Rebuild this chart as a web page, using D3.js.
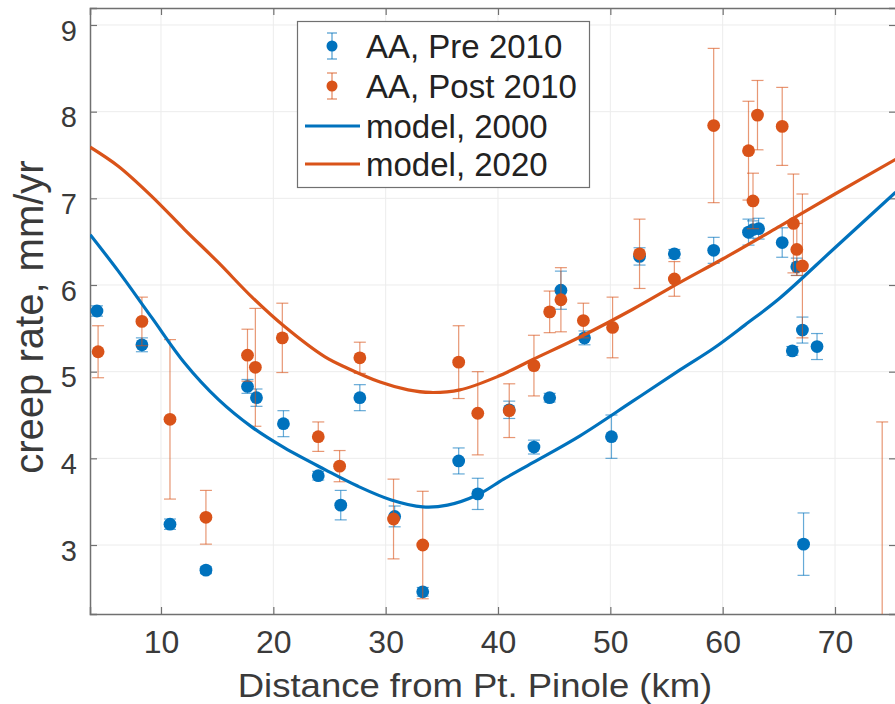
<!DOCTYPE html>
<html>
<head>
<meta charset="utf-8">
<script src="https://cdn.jsdelivr.net/npm/d3@7"></script>
<style>
  html, body { margin: 0; padding: 0; background: #fff; }
  svg { display: block; font-family: "Liberation Sans", Arial, Helvetica, sans-serif; }
</style>
</head>
<body>
<svg id="chart" width="895" height="704"></svg>
<script>
// ---- data ----
const xTicks = [10, 20, 30, 40, 50, 60, 70];
const yTicks = [3, 4, 5, 6, 7, 8, 9];
const xDomain = [3.68, 75.43];
const yDomain = [2.204, 9.196];

const seriesNames = ["AA, Pre 2010", "AA, Post 2010", "model, 2000", "model, 2020"];

// [distance km, creep rate mm/yr, error]
const pre2010 = [
  [4.3, 5.70, 0.06], [8.3, 5.31, 0.08], [10.8, 3.24, 0.06], [14.0, 2.71, 0.04],
  [17.7, 4.83, 0.08], [18.5, 4.70, 0.10], [20.9, 4.40, 0.15], [24.0, 3.80, 0.05],
  [26.0, 3.46, 0.17], [27.7, 4.70, 0.15], [30.8, 3.33, 0.12], [33.3, 2.46, 0.05],
  [36.5, 3.97, 0.15], [38.2, 3.59, 0.18], [41.0, 4.56, 0.10], [43.2, 4.13, 0.08],
  [44.6, 4.70, 0.05], [45.6, 5.94, 0.22], [47.7, 5.39, 0.08], [50.1, 4.25, 0.25],
  [52.6, 6.33, 0.10], [55.7, 6.36, 0.05], [59.2, 6.40, 0.15], [62.3, 6.61, 0.15],
  [62.7, 6.64, 0.10], [63.2, 6.65, 0.12], [65.3, 6.49, 0.17], [66.6, 6.21, 0.10],
  [67.1, 5.48, 0.15], [66.2, 5.24, 0.05], [68.4, 5.29, 0.15], [67.2, 3.01, 0.36]
];
const post2010 = [
  [4.4, 5.23, 0.30], [8.3, 5.58, 0.28], [10.8, 4.45, 0.92], [14.0, 3.32, 0.31],
  [17.7, 5.19, 0.30], [18.4, 5.05, 0.68], [20.8, 5.39, 0.40], [24.0, 4.25, 0.17],
  [25.9, 3.91, 0.18], [27.7, 5.16, 0.18], [30.7, 3.30, 0.46], [33.3, 3.00, 0.62],
  [36.5, 5.11, 0.42], [38.2, 4.52, 0.48], [41.0, 4.55, 0.31], [43.2, 5.07, 0.35],
  [44.6, 5.69, 0.24], [45.6, 5.83, 0.37], [47.6, 5.59, 0.20], [50.2, 5.51, 0.35],
  [52.6, 6.36, 0.40], [55.7, 6.07, 0.20], [59.2, 7.84, 0.89], [62.3, 7.55, 0.57],
  [62.7, 6.97, 0.32], [63.1, 7.96, 0.40], [65.3, 7.83, 0.45], [66.3, 6.71, 0.57],
  [66.6, 6.41, 0.30], [67.1, 6.22, 0.83], [74.2, 1.50, 2.92]
];
// model curves [distance, rate]
const model2000 = [
  [3.7, 6.58], [6.2, 6.16], [9.2, 5.62], [12.1, 5.10], [15.1, 4.68], [18.1, 4.36],
  [21.0, 4.12], [24.6, 3.87], [27.5, 3.68], [30.5, 3.52], [33.3, 3.44], [35.5, 3.46],
  [38.2, 3.58], [40.5, 3.76], [43.1, 3.95], [47.3, 4.26], [52.0, 4.66], [56.2, 5.02],
  [59.2, 5.27], [62.0, 5.54], [65.1, 5.85], [70.0, 6.43], [75.4, 7.07]
];
const model2020 = [
  [3.7, 7.59], [6.2, 7.37], [9.2, 7.02], [12.1, 6.64], [15.1, 6.26], [18.1, 5.86],
  [21.0, 5.52], [24.6, 5.17], [26.6, 5.04], [29.5, 4.88], [32.0, 4.79], [34.0, 4.76],
  [36.6, 4.79], [39.9, 4.94], [43.1, 5.14], [47.3, 5.40], [52.0, 5.72], [56.2, 6.03],
  [60.0, 6.30], [65.1, 6.68], [70.0, 7.05], [75.4, 7.45]
];

// ---- layout / style ----
const BLUE = "#0072BD", ORANGE = "#D95319";
const AXIS = "#707070", TEXT = "#3a3a3a", GRID = "#ececec";
const L = 90, T = 8, R = 896, B = 614;

const svg = d3.select("#chart");
const x = d3.scaleLinear().domain(xDomain).range([L, R]);
const y = d3.scaleLinear().domain(yDomain).range([B, T]);

svg.append("defs").append("clipPath").attr("id", "plotclip")
  .append("rect").attr("x", L).attr("y", T).attr("width", R - L).attr("height", B - T);

// grid
const grid = svg.append("g");
grid.selectAll("line.gx").data(xTicks).join("line")
  .attr("x1", d => x(d)).attr("x2", d => x(d)).attr("y1", T).attr("y2", B)
  .attr("stroke", GRID).attr("stroke-width", 1);
grid.selectAll("line.gy").data(yTicks).join("line")
  .attr("y1", d => y(d)).attr("y2", d => y(d)).attr("x1", L).attr("x2", R)
  .attr("stroke", GRID).attr("stroke-width", 1);

// axes (ticks inside, box)
const tickLen = 7;
const axB = svg.append("g").attr("transform", `translate(0,${B})`)
  .call(d3.axisBottom(x).tickValues(xTicks).tickSize(-tickLen).tickPadding(16).tickFormat(d3.format("d")));
const axT = svg.append("g").attr("transform", `translate(0,${T})`)
  .call(d3.axisTop(x).tickValues(xTicks).tickSize(-tickLen).tickFormat(""));
const axL = svg.append("g").attr("transform", `translate(${L},0)`)
  .call(d3.axisLeft(y).tickValues(yTicks).tickSize(-tickLen).tickPadding(13).tickFormat(d3.format("d")));
const axR = svg.append("g").attr("transform", `translate(${R},0)`)
  .call(d3.axisRight(y).tickValues(yTicks).tickSize(-tickLen).tickFormat(""));
[axB, axT, axL, axR].forEach(g => {
  g.select(".domain").attr("stroke", AXIS).attr("stroke-width", 1.5);
  g.selectAll(".tick line").attr("stroke", AXIS).attr("stroke-width", 1.2);
});
axB.selectAll(".tick text").attr("fill", TEXT).attr("font-size", 32)
  .attr("dy", "0.71em");
axL.selectAll(".tick text").attr("fill", TEXT).attr("font-size", 29)
  .attr("dy", "0.52em");

// axis labels
svg.append("text").attr("transform", "translate(475,697) scale(1.09,1)")
  .attr("text-anchor", "middle").attr("fill", TEXT).attr("font-size", 33.5)
  .text("Distance from Pt. Pinole (km)");
svg.append("text").attr("transform", "translate(43,317) rotate(-90)")
  .attr("text-anchor", "middle").attr("fill", TEXT).attr("font-size", 40)
  .text("creep rate, mm/yr");

// plot content
const plot = svg.append("g").attr("clip-path", "url(#plotclip)");
const line = d3.line().x(d => x(d[0])).y(d => y(d[1])).curve(d3.curveCatmullRom.alpha(0.5));

function drawErr(data, color) {
  const g = plot.append("g");
  const cap = 6;
  data.forEach(d => {
    const xc = x(d[0]), y1 = y(d[1] + d[2]), y2 = y(d[1] - d[2]);
    g.append("line").attr("x1", xc).attr("x2", xc).attr("y1", y1).attr("y2", y2)
      .attr("stroke", color).attr("stroke-width", 1.2).attr("opacity", 0.6);
    [y1, y2].forEach(yy => g.append("line").attr("x1", xc - cap).attr("x2", xc + cap)
      .attr("y1", yy).attr("y2", yy).attr("stroke", color).attr("stroke-width", 1.2).attr("opacity", 0.6));
  });
}
function drawPts(data, color) {
  plot.append("g").selectAll("circle").data(data).join("circle")
    .attr("cx", d => x(d[0])).attr("cy", d => y(d[1])).attr("r", 6.4).attr("fill", color);
}
drawErr(pre2010, BLUE);
drawPts(pre2010, BLUE);
drawErr(post2010, ORANGE);
drawPts(post2010, ORANGE);

plot.append("path").datum(model2000).attr("d", line).attr("fill", "none")
  .attr("stroke", BLUE).attr("stroke-width", 3.2);
plot.append("path").datum(model2020).attr("d", line).attr("fill", "none")
  .attr("stroke", ORANGE).attr("stroke-width", 3.2);

// legend
const lg = svg.append("g");
lg.append("rect").attr("x", 297.5).attr("y", 21.5).attr("width", 292).attr("height", 166)
  .attr("fill", "#fff").attr("stroke", AXIS).attr("stroke-width", 1.2);
const rowsY = [46, 86, 126, 164];
const colors = [BLUE, ORANGE, BLUE, ORANGE];
seriesNames.forEach((name, i) => {
  const yy = rowsY[i];
  if (i < 2) {
    const xc = 332;
    lg.append("line").attr("x1", xc).attr("x2", xc).attr("y1", yy - 13).attr("y2", yy + 13)
      .attr("stroke", colors[i]).attr("stroke-width", 1.2).attr("opacity", 0.7);
    [yy - 13, yy + 13].forEach(v => lg.append("line").attr("x1", xc - 5).attr("x2", xc + 5)
      .attr("y1", v).attr("y2", v).attr("stroke", colors[i]).attr("stroke-width", 1.2).attr("opacity", 0.7));
    lg.append("circle").attr("cx", xc).attr("cy", yy).attr("r", 5.5).attr("fill", colors[i]);
  } else {
    lg.append("line").attr("x1", 305).attr("x2", 360).attr("y1", yy).attr("y2", yy)
      .attr("stroke", colors[i]).attr("stroke-width", 3.2);
  }
  lg.append("text").attr("x", 366).attr("y", yy).attr("dy", "0.36em")
    .attr("fill", "#222").attr("font-size", 33).text(name);
});
</script>
</body>
</html>
